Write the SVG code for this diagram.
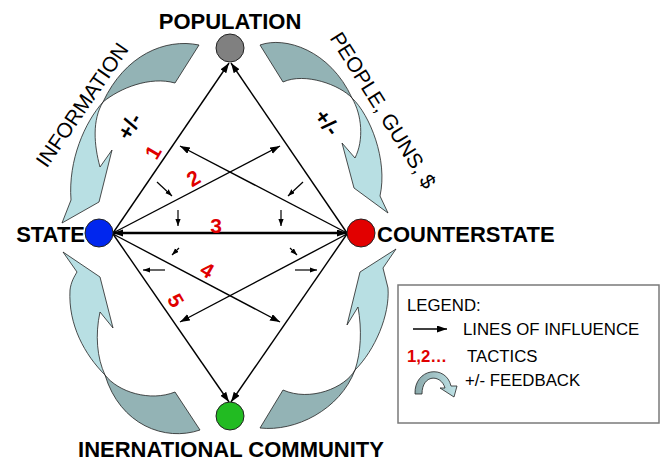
<svg xmlns="http://www.w3.org/2000/svg" width="662" height="462" viewBox="0 0 662 462">
<style>
.lbl{font-family:"Liberation Sans",Arial,sans-serif;font-weight:bold;font-size:22px;fill:#000}
.side{font-family:"Liberation Sans",Arial,sans-serif;font-size:21px;fill:#000}
.pm{font-family:"Liberation Sans",Arial,sans-serif;font-weight:bold;font-size:22px;fill:#000}
.num{font-family:"Liberation Sans",Arial,sans-serif;font-weight:bold;font-size:21px;fill:#e00000}
.leg{font-family:"Liberation Sans",Arial,sans-serif;font-size:16.8px;fill:#000}
.ln{stroke:#000;stroke-width:1.4;fill:none;marker-end:url(#ah)}
.sm{stroke:#000;stroke-width:1.2;fill:none;marker-end:url(#sa)}
.dark{fill:#93b3b5;stroke:#222;stroke-width:0.8}
.light{fill:#b8dfe3;stroke:#222;stroke-width:0.8}
.node{stroke:#222;stroke-width:1}
</style>
<defs>
<marker id="ah" markerUnits="userSpaceOnUse" markerWidth="11" markerHeight="8" refX="10" refY="3.5" orient="auto-start-reverse"><path d="M0,0 L10,3.5 L0,7 Z" fill="#000"/></marker>
<marker id="sa" markerUnits="userSpaceOnUse" markerWidth="8" markerHeight="6" refX="7" refY="2.6" orient="auto"><path d="M0,0 L7,2.6 L0,5.2 Z" fill="#000"/></marker>
<linearGradient id="lg" x1="0" y1="0" x2="1" y2="0"><stop offset="0" stop-color="#8aa9ab"/><stop offset="1" stop-color="#bfe3e7"/></linearGradient>
</defs>

<g id="feedback">
<g id="fb-info">
<path class="dark" d="M199,45 C165,38 125,55 103,102 C120,88 150,76 175,83 Z"/>
<path class="light" d="M103,102 C85,122 68,160 71,200 L62,223 L99,202 L112,150 L100,167 C94,145 92,120 103,102 Z"/>
</g>
<g id="fb-people">
<path class="dark" d="M260,45 C285,36 330,50 352,98 C340,85 305,72 283,82 Z"/>
<path class="light" d="M352,98 C370,115 388,160 380,196 L388,213 L354,188 L342,143 L355,158 C364,140 362,115 352,98 Z"/>
</g>
<g id="fb-bl">
<path class="dark" d="M200,430 C165,442 120,425 105,375 C118,392 150,402 175,392 Z"/>
<path class="light" d="M105,375 C85,355 68,325 70,290 C71,282 74,277 77,272 L63,252 L100,277 L113,328 L100,312 C95,335 97,358 105,375 Z"/>
</g>
<g id="fb-br">
<path class="dark" d="M260,428 C295,432 340,410 355,370 C345,388 310,402 283,390 Z"/>
<path class="light" d="M355,370 C375,350 390,315 388,288 L383,268 L396,249 L360,272 L347,325 L358,307 C362,330 361,352 355,370 Z"/>
</g>
</g>

<g id="connectors">
<line class="ln" x1="113" y1="233" x2="229" y2="63"/>
<line class="ln" x1="347" y1="233" x2="231" y2="63"/>
<line class="ln" x1="113" y1="234" x2="229" y2="402"/>
<line class="ln" x1="347" y1="234" x2="231" y2="402"/>
<line x1="113" y1="233" x2="347" y2="233" stroke="#000" stroke-width="2.4" marker-start="url(#ah)" marker-end="url(#ah)"/>
<line class="ln" x1="113" y1="233" x2="280" y2="146"/>
<line class="ln" x1="347" y1="233" x2="180" y2="146"/>
<line class="ln" x1="113" y1="234" x2="280" y2="322"/>
<line class="ln" x1="347" y1="234" x2="180" y2="322"/>
<line class="sm" x1="157" y1="182" x2="172" y2="196"/>
<line class="sm" x1="303" y1="182" x2="288" y2="196"/>
<line class="sm" x1="178" y1="210" x2="178" y2="226"/>
<line class="sm" x1="281" y1="210" x2="281" y2="226"/>
<line class="sm" x1="179" y1="248" x2="172" y2="255"/>
<line class="sm" x1="290" y1="248" x2="297" y2="255"/>
<line class="sm" x1="165" y1="270" x2="143" y2="270"/>
<line class="sm" x1="295" y1="270" x2="317" y2="270"/>
</g>

<g id="tactics">
<text class="num" text-anchor="middle" transform="translate(159.5,156) rotate(-60)">1</text>
<text class="num" text-anchor="middle" transform="translate(197,184.5) rotate(-30)">2</text>
<text class="num" text-anchor="middle" x="216" y="233">3</text>
<text class="num" text-anchor="middle" transform="translate(203.5,276.5) rotate(30)">4</text>
<text class="num" text-anchor="middle" transform="translate(169.5,304) rotate(60)">5</text>
</g>

<g id="side-labels">
<text class="side" text-anchor="middle" transform="translate(88,109) rotate(-55.4)">INFORMATION</text>
<text class="side" text-anchor="middle" transform="translate(377,114) rotate(57.9)">PEOPLE, GUNS, $</text>
<text class="pm" text-anchor="middle" transform="translate(136,130) rotate(-60)">+/-</text>
<text class="pm" text-anchor="middle" transform="translate(321,127) rotate(54)">+/-</text>
</g>

<g id="population">
<circle class="node" cx="230" cy="48" r="14" fill="#808080"/>
<text class="lbl" text-anchor="middle" x="230" y="29">POPULATION</text>
</g>
<g id="state">
<circle class="node" cx="99" cy="233" r="14" fill="#0026ee"/>
<text class="lbl" text-anchor="end" x="85" y="242">STATE</text>
</g>
<g id="counterstate">
<circle class="node" cx="361" cy="233" r="14" fill="#e20000"/>
<text class="lbl" x="377" y="242">COUNTERSTATE</text>
</g>
<g id="community">
<circle class="node" cx="230" cy="416" r="14" fill="#22bb22"/>
<text class="lbl" text-anchor="middle" x="231" y="457">INERNATIONAL COMMUNITY</text>
</g>

<g id="legend">
<rect x="398" y="285" width="261" height="138" fill="#fff" stroke="#7a7a7a" stroke-width="1.5"/>
<text class="leg" x="407" y="311">LEGEND:</text>
<line class="ln" x1="413" y1="329" x2="447" y2="329"/>
<text class="leg" x="463" y="335">LINES OF INFLUENCE</text>
<text class="leg" x="407" y="362" style="fill:#e00000;font-weight:bold">1,2…</text>
<text class="leg" x="467" y="362">TACTICS</text>
<path d="M415,394 C414,368 446,364 451,386 L457,386 L454,397 L440,388 L445,388 C441,374 422,374 422,394 Z" fill="url(#lg)" stroke="#222" stroke-width="0.8"/>
<text class="leg" x="465" y="386">+/- FEEDBACK</text>
</g>
</svg>
